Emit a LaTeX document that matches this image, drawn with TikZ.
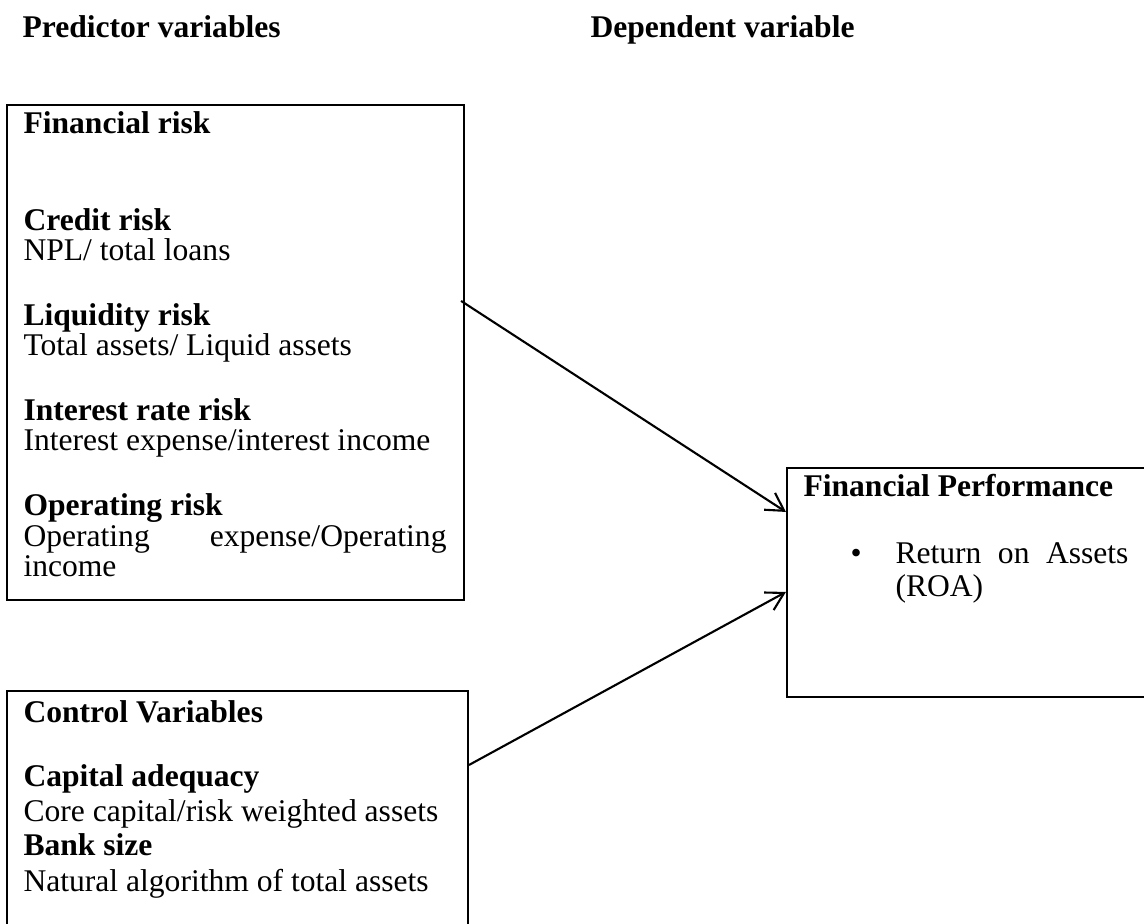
\documentclass[tikz,border=0pt]{standalone}
\usepackage{fontspec}
\setmainfont{Liberation Serif}
\usetikzlibrary{arrows.meta,fit,calc}
\newlength\pxu
\setlength\pxu{0.38pt}
\begin{document}
\begin{tikzpicture}[x=0.38pt,y=-0.38pt,
  box/.style={draw, line width=0.8pt, inner sep=0pt},
  txt/.style={anchor=base west, inner sep=0pt, font=\fontsize{12pt}{14pt}\selectfont},
  hd/.style={anchor=base west, inner sep=0pt, font=\fontsize{12pt}{14pt}\selectfont\bfseries},
  conn/.style={line width=0.8pt, -{Straight Barb[length=6.6pt,width=7.6pt,line width=0.8pt]}}]
\useasboundingbox (0,0) rectangle (1144,924);
\fill[white] (0,0) rectangle (1144,924);

% headings
\node[hd] (hpred) at (22,38) {Predictor variables};
\node[hd] (hdep) at (590,38) {Dependent variable};

% boxes
\node[box, fit={(7,105) (464,600)}] (fin) {};
\node[box, fit={(7,691) (468,934)}] (ctrl) {};
\node[box, fit={(787,468) (1152,697)}] (perf) {};

% financial risk box
\node[hd] (t1) at (23,134) {Financial risk};
\node[hd] (t2) at (23,231) {Credit risk};
\node[txt] (t3) at (23,261) {NPL/ total loans};
\node[hd] (t4) at (23,326) {Liquidity risk};
\node[txt] (t5) at (23,356) {Total assets/ Liquid assets};
\node[hd] (t6) at (23,421) {Interest rate risk};
\node[txt] (t7) at (23,451) {Interest expense/interest income};
\node[hd] (t8) at (23,516) {Operating risk};
\node[txt] (t9) at (23,546) {\makebox[423\pxu][s]{Operating expense/Operating}};
\node[txt] (t10) at (23,576) {income};

% control box
\node[hd] (c1) at (23,722) {Control Variables};
\node[hd] (c2) at (23,786) {Capital adequacy};
\node[txt] (c3) at (23,821) {Core capital/risk weighted assets};
\node[hd] (c4) at (23,855) {Bank size};
\node[txt] (c5) at (23,891) {Natural algorithm of total assets};

% performance box
\node[hd] (p1) at (803,496) {Financial Performance};
\node[txt] (bul) at (850,563) {\textbullet};
\node[txt] (p2) at (895,563) {\makebox[233\pxu][s]{Return on Assets}};
\node[txt] (p3) at (895,596) {(ROA)};

% connectors
\draw[conn] ($(fin.north east)+(-4,197)$) -- ($(perf.north west)+(0,45)$);
\draw[conn] ($(ctrl.north east)+(0,75)$) -- ($(perf.north west)+(0,125)$);
\end{tikzpicture}
\end{document}
